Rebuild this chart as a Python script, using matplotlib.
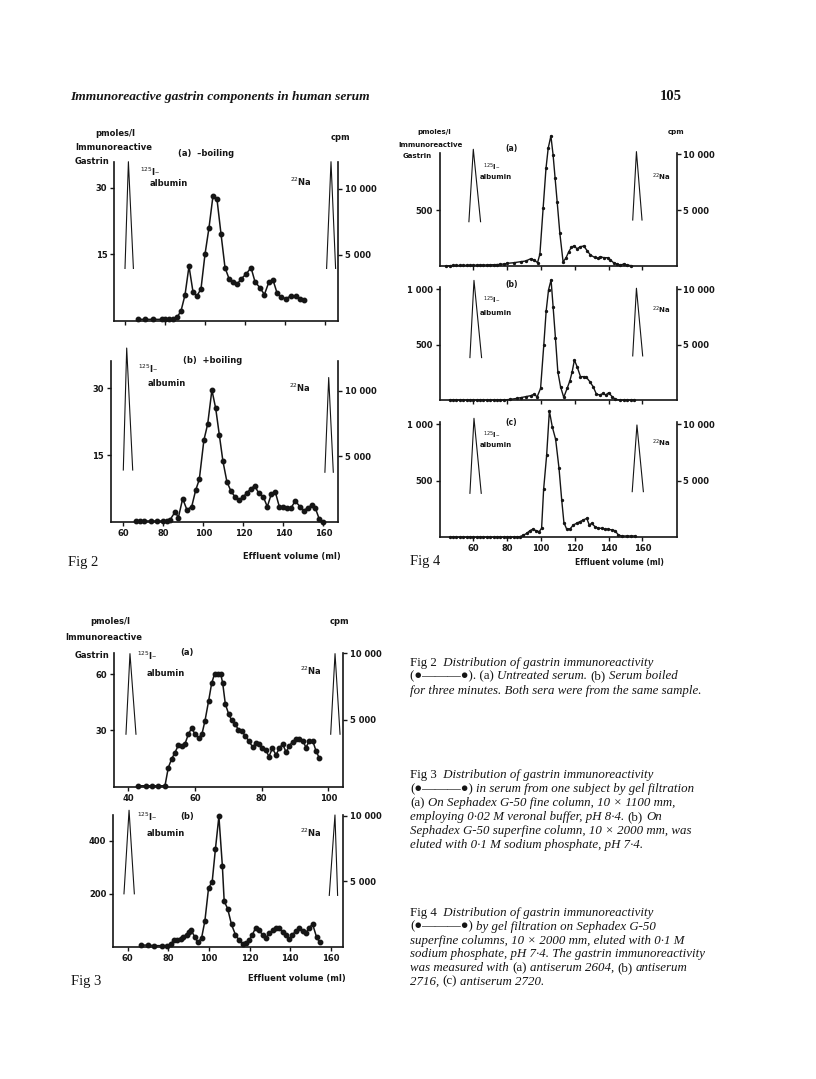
import matplotlib
matplotlib.use("Agg")
import matplotlib.pyplot as plt

W, H = 816, 1079
INK = '#151515'
SANS = 'DejaVu Sans'
SERIF = ['Liberation Serif', 'DejaVu Sans']

# ---- Fig 2 (a) -boiling ----
fig2a_ml = [66.3, 70, 74, 78.3, 80, 82, 84, 86, 88, 90, 92, 94, 96, 98, 100, 102, 104, 106,
            108, 110, 112, 114, 116, 118, 120.7, 123, 125, 127.7, 129.7, 132, 134, 136, 138,
            140.5, 143, 145.7, 147.3, 149.7]
fig2a_val = [0.3, 0.3, 0.3, 0.3, 0.3, 0.3, 0.4, 0.75, 2.2, 5.8, 12.3, 6.5, 5.6, 7.2, 15, 21, 28.2, 27.4,
             19.6, 12, 9.5, 8.8, 8.2, 9.4, 10.6, 12, 8.8, 7.3, 5.9, 8.8, 9.2, 6.3, 5.3,
             5, 5.6, 5.6, 4.8, 4.6]
fig2a_alb = ([60, 61.7, 64.2], [11.8, 35.9, 11.8])
fig2a_na = ([160.8, 163, 165.3], [11.8, 35.9, 11.8])

# ---- Fig 2 (b) +boiling ----
fig2b_ml = [66.3, 68.3, 70.5, 74, 77, 79.7, 81.7, 83.3, 86, 87.5, 89.7, 91.8, 94.2, 96.2, 98,
            100.3, 102.2, 104.3, 106.2, 108, 109.8, 111.8, 113.8, 116, 118, 120, 121.8, 123.8,
            125.7, 127.7, 130, 132, 134, 136, 138, 140, 142, 143.7, 146, 148.3, 150.3, 152.3,
            154.2, 156, 158, 160]
fig2b_val = [0.3, 0.3, 0.3, 0.3, 0.3, 0.3, 0.3, 0.5, 2.4, 1.0, 5.3, 2.8, 3.5, 7.2, 9.6,
             18.4, 22, 29.6, 25.5, 19.6, 13.7, 9.1, 7, 5.6, 5.1, 5.7, 6.6, 7.5,
             8.2, 6.5, 5.7, 3.5, 6.3, 6.8, 3.5, 3.4, 3.2, 3.1, 4.8, 3.5, 2.6, 3.3,
             3.8, 3.2, 0.7, 0]
fig2b_alb = ([60, 61.7, 64.7], [11.7, 39, 11.7])
fig2b_na = ([160.8, 162.7, 165], [11.2, 32.4, 11.2])

# ---- Fig 3 (a) ----
fig3a_ml = [43, 45.2, 47, 49, 51, 52, 53, 54, 55, 56, 57, 58, 59, 60, 61.1, 62.1, 63, 64.1, 65, 65.9,
            66.9, 67.7, 68.3, 69.1, 70.1, 71, 72.1, 73, 74, 75, 76.1, 77.3, 78.3, 79.3, 80.2, 81.2,
            82.2, 83.2, 84.3, 85.3, 86.3, 87.3, 88.3, 89.3, 90.3, 91.3, 92.3, 93.3, 94.3, 95.3,
            96.3, 97.3]
fig3a_val = [0.5, 0.5, 0.5, 0.5, 0.5, 10.2, 14.8, 18.2, 22.1, 21.8, 22.9, 27.9, 31.3, 28, 25.9, 28.2,
             35.2, 45.9, 55.2, 60.4, 60.4, 60.2, 55.4, 44.1, 38.8, 35.4, 33.4, 30.4, 29.8, 27.3,
             24.6, 21.1, 23.2, 22.9, 20.5, 19.6, 16.1, 20.5, 17, 20.5, 22.9, 18.4, 21.8, 24.1,
             25.4, 25.5, 24.6, 20.9, 24.6, 24.5, 19.1, 15.2]
fig3a_alb = ([39.3, 40.5, 42.3], [28, 71, 28])
fig3a_na = ([100.7, 102, 103.5], [28, 71, 28])

# ---- Fig 3 (b) ----
fig3b_ml = [66.6, 69.8, 73.1, 76.7, 79.5, 81.1, 82.8, 84.4, 86.1, 87.4, 89, 90.3, 91.3, 93, 94.6,
            96.4, 98, 99.8, 101.6, 103.2, 104.9, 106.6, 107.5, 109.2, 111.1, 113, 114.8, 116.6,
            118.2, 119.8, 121.3, 123, 124.8, 126.4, 128, 129.7, 131.3, 133, 134.6, 136.2, 137.9,
            139.5, 141.1, 142.8, 144.4, 146.1, 147.7, 149.3, 151, 153, 154.6]
fig3b_val = [6, 6, 4, 4, 4, 10, 25, 27, 29, 37, 46, 54, 62, 37, 16, 34, 97, 221, 246, 370, 493, 306,
             172, 144, 84, 46, 25, 9, 15, 25, 44, 72, 62, 44, 34, 50, 62, 71, 69, 56, 44, 29, 46,
             59, 69, 59, 52, 72, 85, 35, 16]
fig3b_alb = ([58.2, 60.7, 63.3], [200, 516, 200])
fig3b_na = ([159.2, 162, 163.3], [194, 498, 194])

# ---- Fig 4 (a) antiserum 2604 ----
fig4a_ml = [44, 46, 48, 50, 52, 54, 56, 58, 60, 62, 64, 66, 68, 70, 72, 74, 76, 78, 80, 84, 88, 91,
            94, 96, 98, 99.4, 101.3, 103, 104.3, 105.9, 107.2, 108.4, 109.6, 111.2, 113.1, 114.7,
            116.5, 118, 119.4, 121.4, 123.4, 125.4, 127.3, 129.3, 131.7, 133.6, 135.2, 137.2,
            139.5, 141.1, 143, 145, 147, 149, 151, 153.5]
fig4a_val = [0, 0, 2, 2, 3, 3, 4, 4, 5, 5, 6, 6, 7, 8, 9, 10, 12, 15, 21, 27, 36, 42,
             63, 51, 27, 105, 515, 874, 1054, 1165, 994, 784, 575, 290, 36, 66,
             126, 165, 177, 153, 171, 177, 135, 96, 75, 66, 81, 72,
             72, 51, 27, 15, 6, 15, 6, 0]
fig4a_alb = ([57.4, 60, 64.3], [395, 1045, 395])
fig4a_na = ([154.3, 156.5, 159.8], [410, 1024, 410])

# ---- Fig 4 (b) antiserum 2716 ----
fig4b_ml = [46, 48, 50, 52, 54, 56, 58, 60, 62, 64, 66, 68, 70, 72, 74, 76,
            78.1, 82, 86, 88, 90.9, 93.9, 95.8, 97.8, 99.8, 101.7, 103.1, 104.5, 106, 107.2,
            108.6, 110, 111.6, 113.5, 115.5, 117.1, 118.5, 119.8, 121.4, 123.4, 125.4, 126.9,
            128.9, 130.9, 132.8, 134.8, 136.8, 138.3, 140.1, 142.1, 144.1, 147, 149, 151, 153, 155]
fig4b_val = [0, 0, 0, 0, 0, 0, 0, 0, 0, 0, 0, 0, 0, 0, 0, 0,
             0, 6, 15, 21, 30, 39, 51, 30, 105, 497, 804, 994, 1084, 843,
             557, 256, 120, 24, 105, 172, 256, 361, 301, 211, 211, 205,
             166, 120, 54, 45, 60, 45, 66, 30, 6, 0, 0, 0, 0, 0]
fig4b_alb = ([58, 60.4, 64.9], [383, 1080, 383])
fig4b_na = ([154.3, 156.5, 160.2], [398, 1009, 398])

# ---- Fig 4 (c) antiserum 2720 ----
fig4c_ml = [46, 48, 50, 52, 54, 56, 58, 60, 62, 64, 66, 68, 70, 72, 74, 76, 78, 80, 82, 84, 86,
            87.6, 89.6, 91.6, 93.5, 95.1, 97.1, 99, 100.4, 101.6, 103.4, 105, 106.7, 108.7, 110.7,
            112.3, 113.6, 115.2, 117.2, 119.2, 121.1, 123.1, 125.1, 127.1, 128.6, 130, 132, 134,
            135.9, 137.9, 139.9, 141.9, 143.8, 145.8, 147.8, 150.7, 153, 155.7]
fig4c_val = [0, 0, 0, 0, 0, 0, 0, 0, 0, 0, 1, 1, 1, 1, 2, 2, 2, 2, 3, 3, 3,
             6, 18, 35, 59, 71, 59, 50, 80, 425, 729, 1118, 979, 867, 611,
             330, 130, 74, 74, 109, 124, 139, 153, 168, 109, 124, 94, 80,
             80, 74, 71, 65, 59, 21, 12, 12, 12, 12]
fig4c_alb = ([58, 60.4, 64.7], [389, 1053, 389])
fig4c_na = ([154, 156.8, 160.6], [404, 994, 404])

xticks_2 = [60, 80, 100, 120, 140, 160]
xticks_3a = [40, 60, 80, 100]
cpm_ticks = [5000, 10000]
cpm_labels = ['5 000', '10 000']


fig = plt.figure(figsize=(W / 100, H / 100), dpi=100)
fig.patch.set_facecolor('white')


def ptext(x, y, s, size=6, **kw):
    # x, y in page pixels (top-left origin)
    kw.setdefault('family', SANS)
    kw.setdefault('weight', 'bold')
    kw.setdefault('va', 'center')
    return fig.text(x / W, 1 - y / H, s, fontsize=size, color=INK, **kw)


def panel(L, R, T, B, xlim, ytop, rtop, yticks, ylabels, xticks=xticks_2, xlabels=False, ms=3.2, lw=1.1):
    ax = fig.add_axes([L / W, 1 - B / H, (R - L) / W, (B - T) / H])
    ax.patch.set_alpha(0)
    for s in ('top', 'right'):
        ax.spines[s].set_visible(False)
    for s in ('left', 'bottom'):
        ax.spines[s].set_linewidth(1.2)
        ax.spines[s].set_color(INK)
    ax.set_xticks(xticks)
    ax.set_yticks(yticks)
    ax.set_yticklabels(ylabels)
    ax.set_xlim(*xlim)
    ax.set_ylim(0, ytop)
    ax.tick_params(direction='out', length=3, width=1, color=INK, labelsize=6, pad=2,
                   labelcolor=INK, labelbottom=xlabels)
    for t in ax.get_xticklabels() + ax.get_yticklabels():
        t.set_fontweight('bold')
    rax = ax.twinx()
    rax.set_yticks(cpm_ticks)
    rax.set_yticklabels(cpm_labels)
    rax.set_ylim(0, rtop)
    for s in ('top', 'left', 'bottom'):
        rax.spines[s].set_visible(False)
    rax.spines['right'].set_linewidth(1.2)
    rax.spines['right'].set_color(INK)
    rax.tick_params(direction='out', length=3, width=1, color=INK, labelsize=6, pad=2, labelcolor=INK)
    for t in rax.get_yticklabels():
        t.set_fontweight('bold')
    ax._ms = ms
    ax._lw = lw
    return ax


def draw(ax, ml, val, alb, na):
    ax.plot(alb[0], alb[1], color=INK, lw=0.8, clip_on=False)
    ax.plot(na[0], na[1], color=INK, lw=0.8, clip_on=False)
    ax.plot(ml, val, color=INK, lw=ax._lw, marker='o', ms=ax._ms, mfc=INK, mec=INK, clip_on=False)


# Fig 2 (a)
a = panel(114.3, 338.3, 161.7, 320.7, (54.65, 166.65), 35.9, 12030, [15, 30], ['15', '30'])
draw(a, fig2a_ml, fig2a_val, fig2a_alb, fig2a_na)
# Fig 2 (b)
a = panel(111, 337.7, 361, 522.3, (53.85, 167.2), 36.1, 12240, [15, 30], ['15', '30'], xlabels=True)
draw(a, fig2b_ml, fig2b_val, fig2b_alb, fig2b_na)

# Fig 4 (a), (b), (c)
a = panel(440, 676.5, 153.3, 265.7, (40.3, 180.2), 1009, 10090, [500], ['500'], ms=1.4, lw=1.0)
draw(a, fig4a_ml, fig4a_val, fig4a_alb, fig4a_na)
a = panel(440, 676.5, 286.7, 400, (40.3, 180.2), 1023, 10234, [500, 1000], ['500', '1 000'], ms=1.4, lw=1.0)
draw(a, fig4b_ml, fig4b_val, fig4b_alb, fig4b_na)
a = panel(440, 676.5, 421.7, 537.3, (40.3, 180.2), 1023, 10234, [500, 1000], ['500', '1 000'],
          xlabels=True, ms=1.4, lw=1.0)
draw(a, fig4c_ml, fig4c_val, fig4c_alb, fig4c_na)

# Fig 3 (a)
a = panel(114.3, 342.7, 652.7, 786.7, (35.8, 104.3), 71.5, 10040, [30, 60], ['30', '60'],
          xticks=xticks_3a, xlabels=True)
draw(a, fig3a_ml, fig3a_val, fig3a_alb, fig3a_na)
# Fig 3 (b)
a = panel(113.3, 343.3, 815, 946.7, (52.95, 166.1), 498, 10060, [200, 400], ['200', '400'], xlabels=True)
draw(a, fig3b_ml, fig3b_val, fig3b_alb, fig3b_na)

# ---- panel annotations ----
ptext(95, 133, 'pmoles/l')
ptext(75, 147, 'Immunoreactive')
ptext(75, 162, 'Gastrin')
ptext(331, 137, 'cpm')
ptext(178, 153, '(a)  \u2013boiling')
ptext(140, 172, '$^{125}$I\u2013')
ptext(150, 183, 'albumin')
ptext(290, 182, '$^{22}$Na')

ptext(183, 361, '(b)  +boiling')
ptext(138, 369, '$^{125}$I\u2013')
ptext(148, 384, 'albumin')
ptext(289, 388, '$^{22}$Na')
ptext(243, 556, 'Effluent volume (ml)')
ptext(68, 562, 'Fig 2', size=10.5, family=SERIF, weight='normal')

ptext(417, 132, 'pmoles/l', size=5)
ptext(398, 145, 'Immunoreactive', size=5)
ptext(403, 156, 'Gastrin', size=5)
ptext(668, 132, 'cpm', size=5)
for y0, lab in ((148, '(a)'), (284, '(b)'), (422, '(c)')):
    ptext(505, y0, lab, size=5.5)
for y1, y2, y3 in ((167, 177, 177), (300, 313, 310), (435, 445, 443)):
    ptext(483, y1, '$^{125}$I\u2013', size=5)
    ptext(480, y2, 'albumin', size=5)
    ptext(652, y3, '$^{22}$Na', size=5)
ptext(575, 563, 'Effluent volume (ml)', size=5.5)
ptext(410, 561, 'Fig 4', size=10.5, family=SERIF, weight='normal')

ptext(90, 622, 'pmoles/l')
ptext(330, 622, 'cpm')
ptext(65, 637, 'Immunoreactive')
ptext(75, 655, 'Gastrin')
ptext(180, 653, '(a)')
ptext(137, 656, '$^{125}$I\u2013')
ptext(147, 673, 'albumin')
ptext(300, 671, '$^{22}$Na')
ptext(180, 816, '(b)')
ptext(137, 817, '$^{125}$I\u2013')
ptext(147, 833, 'albumin')
ptext(300, 833, '$^{22}$Na')
ptext(248, 978, 'Effluent volume (ml)')
ptext(71, 981, 'Fig 3', size=10.5, family=SERIF, weight='normal')

# ---- page header ----
ptext(70, 97, 'Immunoreactive gastrin components in human serum', size=9.7,
      family=SERIF, weight='bold', style='italic')
ptext(660, 97, '105', size=10.5, family=SERIF, weight='bold')

# ---- captions ----
renderer = fig.canvas.get_renderer()
CAP = 9.3
GAP = 3.3


def caption_line(x, y, parts):
    for s, ital in parts:
        t = fig.text(x / W, 1 - y / H, s, fontsize=CAP, color=INK, family=SERIF,
                     style='italic' if ital else 'normal', va='center')
        x += t.get_window_extent(renderer=renderer).width + GAP


BUL = '(\u25cf\u2014\u2014\u2014\u25cf)'
captions = [
    (662.7, [('Fig 2', False), (' Distribution of gastrin immunoreactivity', True)]),
    (676, [(BUL + '. (a)', False), ('Untreated serum.', True), ('(b)', False), ('Serum boiled', True)]),
    (690.7, [('for three minutes. Both sera were from the same sample.', True)]),
    (775, [('Fig 3', False), (' Distribution of gastrin immunoreactivity', True)]),
    (789, [(BUL, False), ('in serum from one subject by gel filtration', True)]),
    (803.3, [('(a)', False), ('On Sephadex G-50 fine column, 10 \u00d7 1100 mm,', True)]),
    (817.3, [('employing 0\u00b702 M veronal buffer, pH 8\u00b74.', True), ('(b)', False), ('On', True)]),
    (831.3, [('Sephadex G-50 superfine column, 10 \u00d7 2000 mm, was', True)]),
    (845, [('eluted with 0\u00b71 M sodium phosphate, pH 7\u00b74.', True)]),
    (913.3, [('Fig 4', False), (' Distribution of gastrin immunoreactivity', True)]),
    (926.7, [(BUL, False), ('by gel filtration on Sephadex G-50', True)]),
    (940.7, [('superfine columns, 10 \u00d7 2000 mm, eluted with 0\u00b71 M', True)]),
    (954, [('sodium phosphate, pH 7\u00b74. The gastrin immunoreactivity', True)]),
    (968, [('was measured with', True), ('(a)', False), ('antiserum 2604,', True), ('(b)', False), ('antiserum', True)]),
    (981.7, [('2716,', True), ('(c)', False), ('antiserum 2720.', True)]),
]
for y, parts in captions:
    caption_line(410, y, parts)

fig.savefig('out.png', dpi=100, facecolor='white')
